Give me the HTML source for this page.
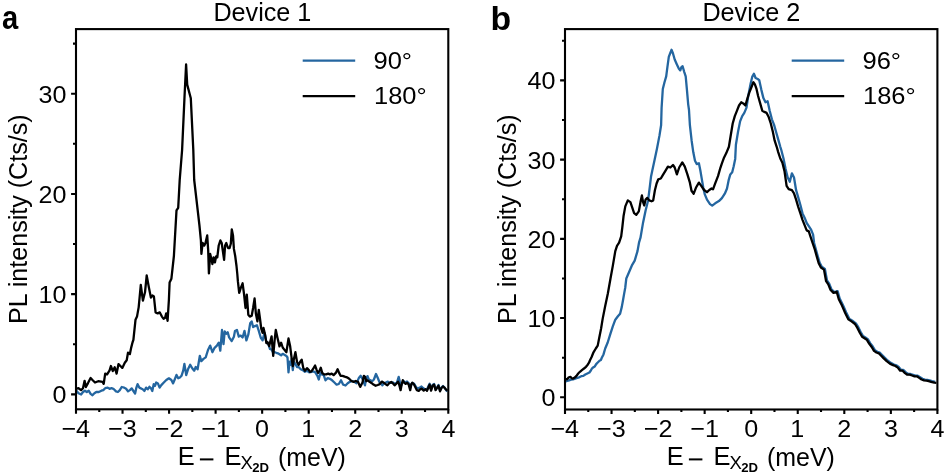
<!DOCTYPE html><html><head><meta charset="utf-8"><style>html,body{margin:0;padding:0;background:#fff;width:945px;height:473px;overflow:hidden}svg{display:block;filter:blur(0.35px)}text{font-family:"Liberation Sans",sans-serif;fill:#000}</style></head><body>
<svg width="945" height="473" viewBox="0 0 945 473">
<rect width="945" height="473" fill="#fff"/>
<polyline points="76.0,390.1 78.5,393.3 81.1,394.5 83.0,392.0 84.9,390.7 86.8,392.0 88.7,390.7 90.6,393.9 92.5,395.2 94.4,393.3 96.3,392.0 98.8,392.0 101.4,390.7 103.3,390.1 105.2,388.2 107.7,387.6 109.6,388.8 111.5,388.2 113.4,388.8 116.0,391.4 117.9,392.0 119.8,390.1 121.7,387.0 124.2,387.6 126.1,388.8 128.0,391.4 129.9,390.1 131.7,388.4 133.4,391.0 135.1,393.5 136.4,387.6 137.6,384.2 139.3,387.6 141.0,388.4 142.7,389.3 144.4,391.0 146.1,387.6 147.7,389.3 149.4,386.8 151.1,388.4 152.3,391.0 153.7,384.2 155.0,385.9 156.2,382.5 157.9,383.4 159.6,387.6 161.3,385.1 163.8,382.5 166.3,380.0 168.9,378.3 171.4,380.0 173.1,383.4 174.8,379.2 176.5,374.9 178.2,378.3 179.9,377.5 181.5,375.8 183.2,370.7 184.4,363.9 185.8,372.4 186.2,375.2 188.0,369.3 190.2,364.8 192.4,368.5 194.2,370.7 195.7,367.0 197.6,369.3 199.8,355.9 201.3,361.1 203.5,358.9 205.7,357.4 208.0,350.0 210.2,345.6 212.4,352.2 214.6,347.8 216.9,345.6 218.8,342.6 220.3,350.7 222.0,330.0 223.5,344.1 224.7,331.5 226.2,333.7 227.7,332.2 229.1,337.4 231.7,341.1 233.9,336.7 235.0,330.9 236.9,329.9 238.8,336.6 240.7,335.6 242.6,337.5 244.5,330.9 246.4,340.4 248.3,334.7 250.2,323.3 251.7,321.4 253.1,327.1 255.0,326.1 256.9,325.2 258.8,330.9 260.7,337.5 262.6,340.4 264.5,332.8 266.4,342.3 268.3,344.2 270.0,349.0 271.6,349.6 273.2,352.8 274.8,352.2 276.3,352.8 277.9,353.3 279.5,354.3 281.1,355.4 282.7,353.8 284.8,354.9 286.4,355.9 287.5,357.5 288.5,372.3 289.6,361.7 290.6,364.9 291.7,358.6 292.8,370.2 293.8,361.7 295.4,363.9 297.0,367.0 298.6,367.0 300.7,369.2 302.8,370.2 304.9,371.8 307.0,370.7 309.2,372.3 310.7,372.1 312.9,371.4 315.1,372.1 317.4,375.8 318.8,379.5 320.3,372.9 321.8,374.4 323.7,375.1 325.5,380.3 327.7,378.1 329.9,378.8 332.1,380.3 334.4,382.5 336.6,384.7 338.8,384.0 341.0,380.3 343.2,384.7 345.5,385.5 347.7,383.2 349.9,381.8 352.1,381.0 354.3,381.8 356.5,383.2 358.8,378.1 360.7,375.8 362.5,378.8 365.0,385.4 366.0,378.6 367.5,376.1 368.8,379.5 370.5,380.3 372.2,381.2 373.9,379.5 376.0,374.0 377.7,377.8 379.4,382.0 381.1,383.7 382.4,385.4 384.1,383.3 386.2,382.4 387.9,381.6 389.6,382.9 391.2,382.9 392.9,382.4 394.6,383.7 396.9,382.8 398.7,376.9 399.4,379.8 400.6,387.2 402.0,383.5 403.5,381.0 405.0,382.5 407.0,381.5 409.0,383.5 410.5,387.5 412.0,383.0 414.0,383.5 415.5,386.0 417.2,388.7 420.2,387.2 421.5,386.5 423.1,388.0 425.0,389.4 427.0,389.5 428.5,386.0 429.6,383.8 431.1,389.5 432.6,385.0 434.1,384.0 435.6,389.5 437.0,387.5 438.5,385.0 440.0,390.5 441.5,387.5 443.0,386.0 444.4,387.5 446.0,390.0 447.3,391.5" fill="none" stroke="#2466a0" stroke-width="2.3" stroke-linejoin="round"/>
<polyline points="76.0,388.8 78.5,388.2 81.1,390.1 83.0,388.2 84.6,380.8 85.9,387.0 88.0,383.1 90.6,378.0 92.5,380.0 95.0,382.5 98.2,381.2 102.6,381.9 103.7,383.8 105.2,373.6 107.1,374.3 109.6,370.4 110.9,366.0 112.8,371.1 114.7,367.3 116.6,373.6 118.5,364.1 120.4,366.0 122.3,367.9 124.8,362.8 126.7,360.3 128.0,352.7 129.9,354.0 131.2,347.6 132.5,342.5 133.4,339.9 135.5,319.8 137.0,316.6 138.7,307.1 140.8,284.9 142.9,300.7 145.0,292.3 146.7,275.4 148.8,287.0 150.9,297.6 152.4,295.5 153.9,296.5 155.6,312.4 157.7,313.4 159.8,312.4 161.9,316.6 163.6,318.7 165.1,317.7 166.2,313.4 167.6,320.8 168.9,299.7 169.6,282.5 171.4,278.7 173.9,256.0 176.5,210.4 178.2,207.8 179.7,180.0 182.1,150.0 184.5,97.3 186.1,64.5 187.2,84.6 190.8,98.3 193.3,150.0 194.2,180.0 198.0,212.9 199.5,226.0 200.9,240.4 201.4,253.9 202.6,243.0 204.3,245.5 205.5,243.0 207.2,235.4 208.2,250.6 208.9,273.4 210.2,253.9 211.4,259.0 212.4,264.1 213.6,257.3 214.9,262.4 216.1,256.5 217.3,257.3 218.7,245.5 220.4,240.4 221.7,243.0 222.9,251.4 224.1,259.9 225.1,245.5 226.3,243.0 228.0,248.0 229.6,248.0 230.8,243.8 231.8,229.4 233.0,235.4 233.9,248.9 235.2,256.0 236.5,266.0 237.3,274.0 237.9,281.4 239.2,292.8 240.7,288.1 242.6,283.3 244.1,294.7 245.5,308.0 246.8,294.7 248.3,314.7 249.8,316.6 251.7,315.7 253.1,308.0 254.6,298.5 255.9,313.8 257.4,321.4 258.8,310.0 260.1,319.5 261.3,329.0 262.6,332.8 263.5,328.0 265.1,334.7 266.4,343.2 267.7,342.3 269.2,346.1 270.0,342.7 271.6,336.3 273.2,355.9 274.8,338.5 275.8,330.0 277.4,337.4 279.5,346.4 281.1,342.7 282.7,347.5 284.3,349.6 286.4,352.2 288.5,338.5 290.1,345.9 291.7,358.6 292.8,366.0 293.8,359.6 295.4,352.2 297.0,361.7 298.6,364.9 300.2,361.7 301.7,359.6 303.3,368.1 304.9,370.7 307.0,368.1 308.6,369.7 310.0,371.8 311.4,371.4 313.4,368.4 315.1,365.5 316.6,369.9 318.1,372.9 319.6,370.7 320.8,367.7 322.2,372.9 324.0,374.4 326.2,374.4 328.2,373.6 329.9,374.4 331.7,373.6 333.6,375.1 335.8,372.9 337.6,369.2 339.1,372.9 340.6,375.8 342.5,375.8 344.7,376.6 346.9,377.3 349.2,378.8 351.4,381.0 353.6,381.8 355.8,381.0 358.0,381.8 360.2,386.9 362.5,382.5 363.9,375.8 365.0,376.9 366.3,381.2 367.5,380.3 369.2,381.6 371.4,382.9 373.5,384.6 375.6,385.8 377.7,385.0 379.8,384.1 381.9,381.6 384.1,382.9 386.2,384.6 387.4,385.4 389.1,383.3 391.2,382.0 392.9,383.3 394.6,385.4 396.5,383.5 398.0,381.7 399.1,384.3 400.6,390.2 401.7,384.3 402.8,380.2 404.3,382.8 405.7,383.9 407.2,382.8 408.7,384.6 410.2,390.2 411.3,384.3 412.4,382.8 413.9,384.3 415.4,387.2 416.9,390.2 418.7,390.9 420.0,389.4 421.9,388.7 423.7,390.6 425.6,389.1 427.0,390.9 428.5,387.2 429.6,384.6 431.1,390.6 432.6,385.7 434.1,384.6 435.6,390.2 437.0,388.0 438.5,385.7 440.0,391.3 441.5,388.0 443.0,386.5 444.4,387.6 445.9,389.4 447.3,390.6" fill="none" stroke="#000" stroke-width="2.3" stroke-linejoin="round"/>
<rect x="76.0" y="29.1" width="372.30" height="380.20" fill="none" stroke="#000" stroke-width="2.1"/>
<path d="M76.00 409.3v4.4M122.54 409.3v4.4M169.07 409.3v4.4M215.61 409.3v4.4M262.15 409.3v4.4M308.69 409.3v4.4M355.23 409.3v4.4M401.76 409.3v4.4M448.30 409.3v4.4M99.27 409.3v2.6M145.81 409.3v2.6M192.34 409.3v2.6M238.88 409.3v2.6M285.42 409.3v2.6M331.96 409.3v2.6M378.49 409.3v2.6M425.03 409.3v2.6M76.0 394.40h-4.9M76.0 294.17h-4.9M76.0 193.94h-4.9M76.0 93.71h-4.9M76.0 344.28h-3M76.0 244.05h-3M76.0 143.82h-3M76.0 43.59h-3" stroke="#000" stroke-width="2.1" fill="none"/>
<text transform="translate(61.42,437.24) scale(1.03,1)" font-size="24.4">−4</text>
<text transform="translate(108.09,437.48) scale(1.03,1)" font-size="24.4">−3</text>
<text transform="translate(154.75,437.48) scale(1.03,1)" font-size="24.4">−2</text>
<text transform="translate(201.29,437.24) scale(1.03,1)" font-size="24.4">−1</text>
<text transform="translate(255.11,437.48) scale(1.03,1)" font-size="24.4">0</text>
<text transform="translate(301.27,437.24) scale(1.03,1)" font-size="24.4">1</text>
<text transform="translate(348.19,437.48) scale(1.03,1)" font-size="24.4">2</text>
<text transform="translate(394.85,437.48) scale(1.03,1)" font-size="24.4">3</text>
<text transform="translate(441.39,437.24) scale(1.03,1)" font-size="24.4">4</text>
<text transform="translate(52.43,403.32) scale(1.03,1)" font-size="24.4">0</text>
<text transform="translate(38.61,303.09) scale(1.03,1)" font-size="24.4">10</text>
<text transform="translate(38.61,202.86) scale(1.03,1)" font-size="24.4">20</text>
<text transform="translate(38.61,102.63) scale(1.03,1)" font-size="24.4">30</text>
<text transform="translate(27.20,323.91) rotate(-90) scale(0.996,1)" font-size="25.2">PL intensity (Cts/s)</text>
<text transform="translate(177.66,464.99) scale(1.01,1)" font-size="25.2">E</text>
<rect x="199.9" y="458.4" width="13.5" height="2" fill="#000"/>
<text transform="translate(224.46,464.99) scale(1.01,1)" font-size="25.2">E</text>
<text transform="translate(240.44,468.87) scale(1.0,1)" font-size="18.5">X</text>
<text transform="translate(252.20,471.74) scale(1.08,1)" font-size="12.2" font-weight="bold">2D</text>
<text transform="translate(278.00,465.60) scale(0.99,1)" font-size="25.2">(meV)</text>
<text transform="translate(213.38,20.50) scale(1.0,1)" font-size="25.2">Device 1</text>
<path d="M302.7 60.6h52.5" stroke="#2466a0" stroke-width="2.1"/>
<path d="M302.7 96.1h52.5" stroke="#000" stroke-width="2.1"/>
<text transform="translate(373.53,68.92) scale(1.08,1)" font-size="23.6">90°</text>
<text transform="translate(373.96,104.22) scale(1.08,1)" font-size="23.6">180°</text>
<polyline points="565.0,381.7 567.1,381.0 569.1,380.3 571.1,379.6 573.1,379.3 575.2,378.6 577.2,377.9 579.2,377.3 581.3,376.2 583.3,375.9 585.3,374.5 587.4,373.5 589.4,372.5 590.7,370.8 591.8,368.8 593.1,367.4 594.8,366.4 596.2,364.1 597.5,362.7 599.5,360.7 600.9,360.0 601.8,357.8 603.5,354.4 605.2,348.5 607.7,342.5 610.3,334.1 612.8,326.4 615.3,319.7 617.9,316.3 620.1,313.7 621.8,306.9 623.0,300.2 624.2,293.4 625.2,288.0 626.3,278.5 629.0,272.2 632.2,264.8 634.7,260.6 637.5,251.1 639.0,242.7 640.5,237.7 643.1,222.4 645.6,210.6 648.1,200.4 649.8,186.9 651.0,176.8 652.2,170.9 654.4,160.7 656.9,148.9 659.5,135.4 661.1,125.2 661.6,107.7 662.8,89.0 664.5,82.3 666.2,76.4 667.4,67.1 668.8,56.9 670.1,53.5 671.5,49.8 673.0,53.5 674.7,59.5 676.9,64.5 678.9,68.8 680.3,70.4 681.4,67.1 682.6,66.2 684.3,72.1 685.7,76.4 687.0,90.7 688.2,104.3 689.0,110.0 689.9,125.2 691.6,140.4 693.3,152.3 695.0,160.7 696.7,164.1 698.9,163.3 700.4,170.7 701.9,179.6 703.3,187.8 704.8,194.4 707.0,199.6 710.0,204.1 712.2,205.6 715.2,203.3 718.9,201.1 721.9,198.1 724.8,193.7 727.0,188.5 728.8,179.6 730.3,174.4 732.2,172.2 733.7,166.3 735.2,158.9 735.9,144.7 738.0,132.0 740.1,121.4 742.2,116.1 744.3,112.9 746.5,107.6 748.6,93.9 750.7,83.3 752.2,76.9 753.9,73.8 755.6,78.0 757.7,79.0 759.2,80.1 761.3,89.6 763.4,98.1 765.5,102.3 767.6,101.3 769.7,110.8 771.9,119.3 774.0,124.6 776.1,132.0 778.2,139.4 780.3,146.8 781.3,150.0 783.5,158.5 785.6,169.0 787.7,177.5 789.8,181.7 791.9,173.3 794.0,177.5 796.1,190.2 798.3,197.6 800.4,205.0 802.5,213.4 804.6,217.7 806.7,223.0 808.8,226.1 810.9,229.3 813.1,234.6 814.1,243.0 817.5,255.2 819.6,262.6 821.8,266.8 824.9,268.9 827.0,280.5 829.2,283.7 831.3,289.0 834.4,292.2 837.6,291.1 839.7,298.5 842.9,304.9 846.1,312.3 849.2,318.6 852.4,320.7 855.9,323.3 858.3,327.2 860.7,332.0 863.0,336.0 865.4,337.5 867.8,339.1 870.2,343.1 872.6,346.3 874.9,350.2 877.3,351.8 879.7,352.6 882.1,355.0 884.4,357.4 887.6,360.5 890.8,362.9 894.0,364.5 896.3,365.3 898.7,366.9 901.1,370.0 903.5,370.0 905.9,372.4 908.2,374.0 910.6,374.0 913.0,374.8 915.4,375.6 917.7,375.6 920.1,377.2 922.5,378.8 924.9,379.6 927.3,379.9 929.6,380.4 932.0,381.1 935.2,381.9" fill="none" stroke="#2466a0" stroke-width="2.3" stroke-linejoin="round"/>
<polyline points="565.0,378.9 567.1,379.3 568.8,377.3 570.4,376.9 571.8,378.3 573.1,378.6 574.8,377.6 576.5,375.9 578.2,373.5 579.9,371.8 581.9,370.1 584.0,368.5 586.0,366.8 587.7,364.7 589.0,362.7 590.1,360.0 591.6,357.0 593.5,352.3 595.8,348.5 597.7,345.6 599.2,338.0 601.1,328.5 602.7,318.6 605.2,306.0 607.9,293.3 610.5,278.5 612.8,265.9 615.3,251.1 617.0,245.8 619.1,242.7 621.2,236.3 622.3,227.5 623.6,215.7 625.3,206.4 627.8,200.4 630.4,202.1 632.1,207.2 634.1,213.1 636.3,214.8 638.8,211.4 640.5,202.1 641.9,195.4 643.1,202.1 644.2,205.5 645.6,199.6 647.3,197.9 649.3,200.4 651.5,201.3 653.2,200.4 654.9,190.3 656.6,183.5 658.3,179.3 660.8,178.5 662.8,175.1 665.4,170.9 667.9,166.7 670.4,167.5 673.0,165.0 674.7,167.5 676.9,174.3 679.2,167.5 682.3,162.4 684.8,166.7 687.4,174.3 689.9,182.7 691.5,190.7 693.7,193.7 695.9,187.8 698.9,182.6 701.1,185.6 704.1,190.0 707.0,192.2 709.3,190.0 711.5,188.5 713.0,189.3 715.2,183.3 718.1,175.9 720.4,167.8 721.9,163.3 724.1,157.4 726.3,153.1 728.9,146.8 730.6,136.2 732.7,123.5 734.8,116.1 736.9,110.8 739.0,105.5 741.2,102.3 743.3,103.4 745.4,105.5 747.5,98.1 749.6,91.7 751.7,86.5 753.4,82.2 754.9,84.3 756.4,88.6 758.1,96.0 760.2,103.4 762.3,110.8 764.4,111.9 766.6,112.9 768.7,117.1 770.8,123.5 772.9,132.0 774.6,140.4 776.7,146.8 778.2,152.1 780.3,158.5 782.4,162.7 784.5,171.1 786.6,185.9 788.7,189.1 791.9,190.2 794.0,193.3 796.1,199.7 798.3,207.1 800.4,213.4 802.5,219.8 804.6,225.1 806.7,230.4 808.8,231.4 810.5,236.7 812.6,243.0 814.8,249.4 816.6,255.9 818.7,263.3 820.9,267.5 824.0,269.6 826.1,281.2 828.3,284.4 830.4,289.7 833.5,292.9 836.7,291.8 838.8,299.2 842.0,305.6 845.2,313.0 848.3,319.3 851.5,321.4 855.0,324.0 857.4,327.9 859.8,332.7 862.1,336.7 864.5,338.2 866.9,339.8 869.3,343.8 871.7,347.0 874.0,350.9 876.4,352.5 878.8,353.3 881.2,355.7 883.5,358.1 886.7,361.2 889.9,363.6 893.1,365.2 895.4,366.0 897.8,367.6 900.2,370.7 902.6,370.7 905.0,373.1 907.3,374.7 909.7,374.7 912.1,375.5 914.5,376.3 916.8,376.3 919.2,377.9 921.6,379.5 924.0,380.3 926.4,380.6 928.7,381.1 931.1,381.8 934.3,382.6 936.4,382.9" fill="none" stroke="#000" stroke-width="2.3" stroke-linejoin="round"/>
<rect x="565.0" y="29.1" width="372.40" height="380.40" fill="none" stroke="#000" stroke-width="2.1"/>
<path d="M565.00 409.5v4.4M611.55 409.5v4.4M658.10 409.5v4.4M704.65 409.5v4.4M751.20 409.5v4.4M797.75 409.5v4.4M844.30 409.5v4.4M890.85 409.5v4.4M937.40 409.5v4.4M588.27 409.5v2.6M634.83 409.5v2.6M681.38 409.5v2.6M727.92 409.5v2.6M774.48 409.5v2.6M821.02 409.5v2.6M867.58 409.5v2.6M914.12 409.5v2.6M565.0 397.30h-4.9M565.0 318.07h-4.9M565.0 238.85h-4.9M565.0 159.62h-4.9M565.0 80.40h-4.9M565.0 357.69h-3M565.0 278.46h-3M565.0 199.24h-3M565.0 120.01h-3M565.0 40.79h-3" stroke="#000" stroke-width="2.1" fill="none"/>
<text transform="translate(550.42,437.24) scale(1.03,1)" font-size="24.4">−4</text>
<text transform="translate(597.10,437.48) scale(1.03,1)" font-size="24.4">−3</text>
<text transform="translate(643.77,437.48) scale(1.03,1)" font-size="24.4">−2</text>
<text transform="translate(690.32,437.24) scale(1.03,1)" font-size="24.4">−1</text>
<text transform="translate(744.16,437.48) scale(1.03,1)" font-size="24.4">0</text>
<text transform="translate(790.34,437.24) scale(1.03,1)" font-size="24.4">1</text>
<text transform="translate(837.26,437.48) scale(1.03,1)" font-size="24.4">2</text>
<text transform="translate(883.94,437.48) scale(1.03,1)" font-size="24.4">3</text>
<text transform="translate(930.49,437.24) scale(1.03,1)" font-size="24.4">4</text>
<text transform="translate(541.43,406.22) scale(1.03,1)" font-size="24.4">0</text>
<text transform="translate(527.61,326.99) scale(1.03,1)" font-size="24.4">10</text>
<text transform="translate(527.61,247.77) scale(1.03,1)" font-size="24.4">20</text>
<text transform="translate(527.61,168.54) scale(1.03,1)" font-size="24.4">30</text>
<text transform="translate(527.61,89.32) scale(1.03,1)" font-size="24.4">40</text>
<text transform="translate(516.20,323.91) rotate(-90) scale(0.996,1)" font-size="25.2">PL intensity (Cts/s)</text>
<text transform="translate(666.66,464.99) scale(1.01,1)" font-size="25.2">E</text>
<rect x="688.9" y="458.4" width="13.5" height="2" fill="#000"/>
<text transform="translate(713.46,464.99) scale(1.01,1)" font-size="25.2">E</text>
<text transform="translate(729.45,468.87) scale(1.0,1)" font-size="18.5">X</text>
<text transform="translate(741.20,471.74) scale(1.08,1)" font-size="12.2" font-weight="bold">2D</text>
<text transform="translate(767.00,465.60) scale(0.99,1)" font-size="25.2">(meV)</text>
<text transform="translate(702.38,20.50) scale(1.0,1)" font-size="25.2">Device 2</text>
<path d="M791.7 60.6h52.5" stroke="#2466a0" stroke-width="2.1"/>
<path d="M791.7 96.1h52.5" stroke="#000" stroke-width="2.1"/>
<text transform="translate(862.53,68.92) scale(1.08,1)" font-size="23.6">96°</text>
<text transform="translate(862.96,104.22) scale(1.08,1)" font-size="23.6">186°</text>
<text transform="translate(2.03,29.39) scale(0.87,1)" font-size="33.5" font-weight="bold">a</text>
<text transform="translate(490.53,29.82) scale(1.04,1)" font-size="32.5" font-weight="bold">b</text>
</svg></body></html>
